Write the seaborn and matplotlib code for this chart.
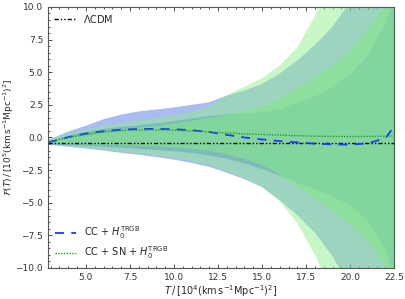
import numpy as np
import pandas as pd
import matplotlib
matplotlib.use("Agg")
import matplotlib.pyplot as plt
import seaborn as sns
from matplotlib.ticker import AutoMinorLocator, MultipleLocator

# T grid, in 10^4 (km/s/Mpc)^2
T = [2.85, 4, 5, 6, 7, 8, 9, 10, 11, 12, 13, 14, 15, 16, 17, 18, 19, 20, 21, 22, 22.5]

# mean reconstructions
f_cc = [-0.38, 0.02, 0.3, 0.48, 0.6, 0.65, 0.66, 0.63, 0.56, 0.42, 0.2, 0.0,
        -0.15, -0.28, -0.38, -0.47, -0.53, -0.55, -0.45, -0.05, 0.85]
f_ccsn = [-0.37, 0.0, 0.22, 0.42, 0.52, 0.58, 0.59, 0.56, 0.5, 0.43, 0.35, 0.28,
          0.23, 0.18, 0.14, 0.1, 0.08, 0.07, 0.08, 0.1, 0.12]
f_lcdm = -0.4

# CC + H0 bands
cc_2s_hi = [-0.2, 0.45, 0.9, 1.4, 1.75, 2.0, 2.15, 2.3, 2.5, 2.7, 3.2, 3.6,
            4.1, 4.9, 5.9, 7.1, 8.5, 10.4, 12.5, 15.0, 16.5]
cc_2s_lo = [-0.55, -0.72, -0.85, -1.0, -1.18, -1.33, -1.5, -1.7, -1.95, -2.25, -2.7, -3.2,
            -3.8, -4.8, -5.95, -7.3, -9.1, -11.5, -14.0, -17.0, -18.5]
cc_1s_hi = [-0.25, 0.2, 0.48, 0.7, 0.85, 0.98, 1.12, 1.3, 1.5, 1.68, 1.8, 1.88,
            1.97, 2.25, 2.7, 3.2, 3.9, 4.9, 6.4, 8.8, 11.5]
cc_1s_lo = [-0.48, -0.55, -0.6, -0.67, -0.75, -0.83, -0.92, -1.02, -1.15, -1.35, -1.6, -1.95,
            -2.4, -2.9, -3.45, -3.95, -4.5, -5.2, -6.4, -8.6, -11.0]

# CC + SN + H0 bands
sn_2s_hi = [-0.15, 0.3, 0.62, 0.9, 1.12, 1.32, 1.5, 1.72, 1.98, 2.4, 3.25, 3.9,
            4.55, 5.5, 6.9, 9.3, 12.5, 15.0, 18.0, 21.0, 23.0]
sn_2s_lo = [-0.5, -0.66, -0.8, -0.93, -1.08, -1.22, -1.38, -1.57, -1.82, -2.15, -2.6, -3.15,
            -3.8, -4.9, -6.55, -9.0, -12.0, -15.0, -18.0, -21.0, -23.0]
sn_1s_hi = [-0.3, 0.0, 0.25, 0.45, 0.6, 0.75, 0.9, 1.08, 1.28, 1.5, 1.72, 2.0,
            2.35, 3.0, 3.8, 4.6, 5.5, 6.6, 8.3, 10.2, 11.5]
sn_1s_lo = [-0.45, -0.5, -0.53, -0.57, -0.6, -0.63, -0.68, -0.75, -0.85, -1.02, -1.3, -1.65,
            -2.1, -2.85, -3.75, -4.65, -5.6, -6.6, -8.0, -9.8, -11.5]

df = pd.DataFrame({"T": T, "cc": f_cc, "ccsn": f_ccsn})

sns.set_theme(style="ticks")
plt.rcParams["font.family"] = ["DejaVu Sans"]
plt.rcParams["mathtext.fontset"] = "dejavusans"

fig = plt.figure(figsize=(4.05, 2.99), dpi=100)
ax = fig.add_axes([0.1185, 0.1037, 0.855, 0.873])

ax.fill_between(T, cc_2s_lo, cc_2s_hi, color="#4169e1", alpha=0.45, lw=0)
ax.fill_between(T, cc_1s_lo, cc_1s_hi, color="#4169e1", alpha=0.6, lw=0)
ax.fill_between(T, sn_2s_lo, sn_2s_hi, color="#90ee90", alpha=0.5, lw=0)
ax.fill_between(T, sn_1s_lo, sn_1s_hi, color="#86e888", alpha=0.6, lw=0)

lcdm, = ax.plot([T[0], T[-1]], [f_lcdm, f_lcdm], color="black", lw=1.0,
                linestyle=(0, (3, 1.5, 1, 1.5, 1, 1.5)), label=r"$\Lambda$CDM")
sns.lineplot(data=df, x="T", y="cc", ax=ax, color="#1a3cff", lw=1.3,
             linestyle=(0, (5, 4)), label=r"CC + $H_0^{\rm TRGB}$")
sns.lineplot(data=df, x="T", y="ccsn", ax=ax, color="#22a022", lw=1.0,
             linestyle=(0, (1, 1)), label=r"CC + SN + $H_0^{\rm TRGB}$")

ax.set_xlim(2.85, 22.5)
ax.set_ylim(-10, 10)
ax.xaxis.set_major_locator(MultipleLocator(2.5))
ax.yaxis.set_major_locator(MultipleLocator(2.5))
ax.xaxis.set_minor_locator(AutoMinorLocator(5))
ax.yaxis.set_minor_locator(AutoMinorLocator(5))
ax.tick_params(which="both", direction="in", top=True, right=True,
               labelsize=6.5, colors="#333333", width=0.6)
ax.tick_params(which="major", length=3)
ax.tick_params(which="minor", length=1.6)
for s in ax.spines.values():
    s.set_color("#555555")
    s.set_linewidth(0.8)

ax.set_xlabel(r"$T\,/\,[10^4(\mathrm{km\,s^{-1}Mpc^{-1}})^2]$", fontsize=7, labelpad=1)
ax.set_ylabel(r"$\mathcal{F}(T)\,/\,[10^5(\mathrm{km\,s^{-1}Mpc^{-1}})^2]$", fontsize=6.5, labelpad=0)

handles, labels = ax.get_legend_handles_labels()
leg1 = ax.legend([lcdm], [r"$\Lambda$CDM"], loc="upper left", frameon=False,
                 fontsize=7, handlelength=2.2, borderaxespad=0.2)
ax.add_artist(leg1)
h2 = [h for h, l in zip(handles, labels) if l != r"$\Lambda$CDM"]
l2 = [l for l in labels if l != r"$\Lambda$CDM"]
ax.legend(h2, l2, loc="lower left", frameon=False, fontsize=7, handlelength=2.2,
          labelspacing=0.35, borderaxespad=0.3)

fig.savefig("out.png", dpi=100)
